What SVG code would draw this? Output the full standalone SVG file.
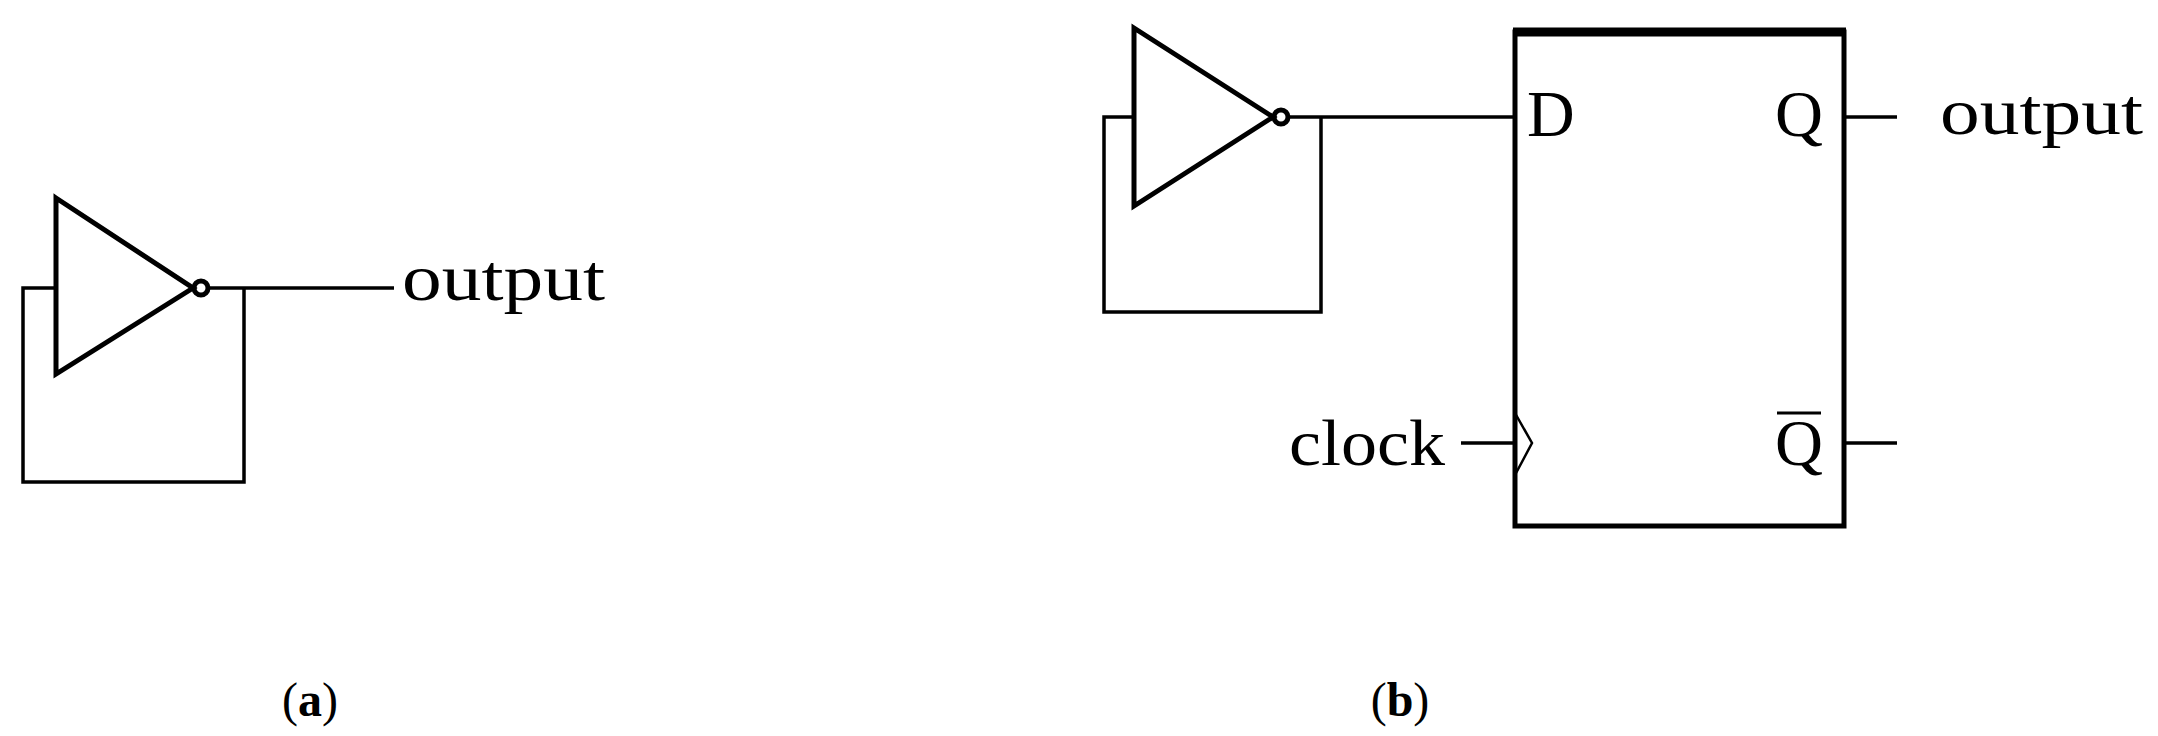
<svg xmlns="http://www.w3.org/2000/svg" width="2158" height="736" viewBox="0 0 2158 736">
<style>
.w{fill:none;stroke:#000;stroke-width:3.5}
.g{fill:none;stroke:#000;stroke-width:5;stroke-linejoin:miter}
text{font-family:"Liberation Serif","DejaVu Serif",serif;font-size:66px;fill:#000}
.c{font-size:48px}
</style>
<rect width="2158" height="736" fill="#fff"/>
<g id="inv_a">
<polygon class="g" points="56,198 193,288 56,374"/>
<circle class="g" cx="201" cy="288" r="7" stroke-width="4"/>
</g>
<g id="ff">
<rect x="1515" y="32" width="329" height="494" class="g"/>
<line x1="1513" y1="32" x2="1846" y2="32" stroke="#000" stroke-width="9"/>
<polyline fill="none" stroke="#000" stroke-width="2.5" points="1515,413 1532,443 1515,475"/>
<text x="1527" y="136">D</text>
<text x="1775" y="136" textLength="48" lengthAdjust="spacingAndGlyphs">Q</text>
<text x="1775" y="465" textLength="48" lengthAdjust="spacingAndGlyphs">Q</text>
<line x1="1777" y1="413" x2="1821" y2="413" stroke="#000" stroke-width="3"/>
</g>
<g id="inv_b">
<polygon class="g" points="1134,28 1273,117 1134,206"/>
<circle class="g" cx="1281" cy="117" r="7" stroke-width="4"/>
</g>
<g id="connectors">
<polyline class="w" points="56,288 23,288 23,482 244,482 244,288"/>
<line class="w" x1="208" y1="288" x2="394" y2="288"/>
<polyline class="w" points="1134,117 1104,117 1104,312 1321,312 1321,117"/>
<line class="w" x1="1288" y1="117" x2="1515" y2="117"/>
<line class="w" x1="1844" y1="117" x2="1897" y2="117"/>
<line class="w" x1="1844" y1="443" x2="1897" y2="443"/>
<line class="w" x1="1461" y1="443" x2="1515" y2="443"/>
</g>
<g id="labels">
<text x="402" y="300" textLength="203" lengthAdjust="spacingAndGlyphs">output</text>
<text x="1940" y="134" textLength="203" lengthAdjust="spacingAndGlyphs">output</text>
<text x="1289" y="465" textLength="156" lengthAdjust="spacingAndGlyphs">clock</text>
<text class="c" x="310" y="716" text-anchor="middle">(<tspan font-weight="bold">a</tspan>)</text>
<text class="c" x="1400" y="716" text-anchor="middle">(<tspan font-weight="bold">b</tspan>)</text>
</g>
</svg>
